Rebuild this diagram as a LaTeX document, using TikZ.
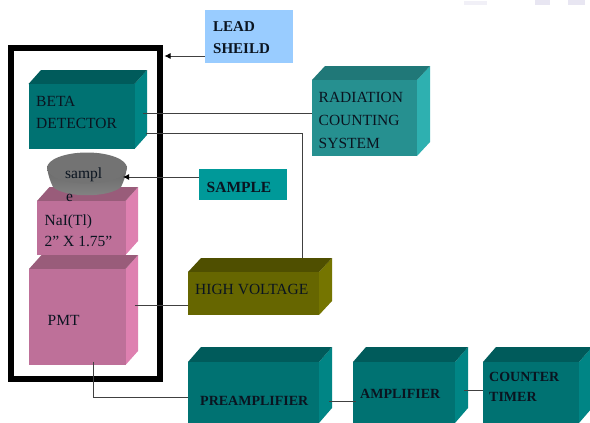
\documentclass[tikz,border=0pt]{standalone}
\usepackage{fontspec}
\setmainfont{Liberation Serif}
\usetikzlibrary{arrows.meta,shapes.geometric}
\definecolor{tealF}{HTML}{007272}
\definecolor{tealT}{HTML}{005B5B}
\definecolor{tealS}{HTML}{008585}
\definecolor{radF}{HTML}{269090}
\definecolor{radT}{HTML}{207878}
\definecolor{radS}{HTML}{2EB0B0}
\definecolor{pinkF}{HTML}{BE7099}
\definecolor{pinkT}{HTML}{995C7A}
\definecolor{pinkS}{HTML}{DE80B0}
\definecolor{oliveF}{HTML}{666600}
\definecolor{oliveT}{HTML}{4F4F00}
\definecolor{oliveS}{HTML}{757500}
\definecolor{shieldC}{HTML}{99CCFF}
\definecolor{sampleC}{HTML}{009999}
\definecolor{smudge}{HTML}{E8E6F2}
\definecolor{inkC}{HTML}{0A1420}
% name, x1, y1 (front top left), x2, y2 (front bottom right), dx, dy, colour prefix
\newcommand{\solidbox}[8]{%
  \fill[#8S] (#4,#3) -- ++(#6,-#7) -- (#4+#6,#5-#7) -- (#4,#5) -- cycle;
  \fill[#8T] (#2,#3) -- ++(#6,-#7) -- (#4+#6,#3-#7) -- (#4,#3) -- cycle;
  \node[fill=#8F,inner sep=0pt,outer sep=0pt,minimum width=#4pt-#2pt,minimum height=#5pt-#3pt,anchor=north west] (#1) at (#2,#3) {};
}
\tikzset{
  lbl/.style={font=\fontsize{15.5}{18}\selectfont,text=inkC,anchor=west,inner sep=0pt,align=left},
  blbl/.style={font=\fontsize{15}{22}\selectfont\bfseries,text=inkC,anchor=west,inner sep=0pt,align=left},
  wire/.style={draw=black!75,line width=0.8pt},
  arrowwire/.style={wire,-{Latex[length=6pt,width=6pt,black]}},
  flatbox/.style={inner sep=0pt,outer sep=0pt,anchor=north west}
}
\begin{document}
\begin{tikzpicture}[x=1pt,y=-1pt]
\useasboundingbox (0,0) rectangle (590,423);
\fill[white] (0,0) rectangle (590,423);
% faint marks at the top edge
\fill[smudge] (535,0) rectangle (550,5);
\fill[smudge] (568,0) rectangle (585,5);
\fill[smudge!60] (464,1) rectangle (487,5);
% shield frame
\node[draw=black,line width=6pt,inner sep=0pt,outer sep=0pt,minimum width=149.5pt,minimum height=331pt,anchor=north west] (frame) at (10.5,48) {};
% boxes
\solidbox{beta}{28.5}{84}{134.5}{149}{12.5}{14}{teal}
\solidbox{rad}{312}{80}{417}{156}{13}{14}{rad}
\solidbox{nai}{37}{201}{125.5}{255}{12.5}{14}{pink}
\solidbox{pmt}{29}{269}{125.5}{365}{12.5}{14}{pink}
\solidbox{hv}{188}{272}{319}{315}{13}{14}{olive}
\solidbox{pre}{188}{362}{319}{423}{13}{15}{teal}
\solidbox{amp}{353}{362}{455}{423}{13}{15}{teal}
\solidbox{cnt}{483}{362}{579}{423}{13}{15}{teal}
% flat boxes
\node[flatbox,fill=shieldC,minimum width=88pt,minimum height=52.5pt] (shield) at (205,10) {};
\node[flatbox,fill=sampleC,minimum width=88pt,minimum height=31pt] (samplebox) at (199,169) {};
% sample disc
\shade[top color=black!60,bottom color=black!48] (47,166) .. controls (48,175) and (50,181) .. (53,187) .. controls (65,198) and (109,198) .. (121,187) .. controls (124,181) and (126,175) .. (127,166) -- cycle;
\node[shape=ellipse,fill=black!55,outer sep=0pt,minimum width=80pt,minimum height=31pt,inner sep=0pt] (disc) at (87,168) {};
% connection points
\coordinate (betaA) at (143,113);
\coordinate (betaB) at (146,133.5);
\coordinate (radIn) at (312,113);
\coordinate (bend1) at (302.5,133.5);
\coordinate (hvTop) at (302.5,258);
\coordinate (pmtR) at (135,305);
\coordinate (hvIn) at (188,305);
\coordinate (pmtB) at (93.5,362);
\coordinate (bend2) at (93.5,397.5);
\coordinate (preIn) at (188,397.5);
\coordinate (preOut) at (329,401);
\coordinate (ampIn) at (356,401);
\coordinate (ampOut) at (464,390.5);
\coordinate (cntIn) at (483,390.5);
\coordinate (shieldOut) at (205,56);
\coordinate (frameIn) at (164.5,56);
\coordinate (sampleOut) at (199,177);
\coordinate (discIn) at (123,177);
% connectors
\draw[wire] (betaA) -- (radIn);
\draw[wire] (betaB) -- (bend1) -- (hvTop);
\draw[wire] (pmtR) -- (hvIn);
\draw[wire] (pmtB) -- (bend2) -- (preIn);
\draw[wire] (preOut) -- (ampIn);
\draw[wire] (ampOut) -- (cntIn);
\draw[arrowwire] (shieldOut) -- (frameIn);
\draw[arrowwire] (sampleOut) -- (discIn);
% labels
\node[blbl] (tShield) at (213,38) {LEAD\\SHEILD};
\node[lbl,font=\fontsize{15.5}{22}\selectfont] (tBeta) at (36,112.5) {BETA\\DETECTOR};
\node[lbl,font=\fontsize{15.5}{23}\selectfont] (tRad) at (318.5,120) {RADIATION\\COUNTING\\SYSTEM};
\node[blbl,font=\fontsize{15.5}{22}\selectfont\bfseries] (tSample) at (206.5,187) {SAMPLE};
\node[lbl] (tDisc) at (65,175) {sampl};
\node[lbl] (tE) at (66,197.5) {e};
\node[lbl,font=\fontsize{15.5}{21}\selectfont] (tNai) at (44.5,231) {NaI(Tl)\\2” X 1.75”};
\node[lbl] (tPmt) at (47.5,320) {PMT};
\node[lbl] (tHv) at (195,289.5) {HIGH VOLTAGE};
\node[blbl,font=\fontsize{14}{20}\selectfont\bfseries] (tPre) at (200,400.5) {PREAMPLIFIER};
\node[blbl,font=\fontsize{14}{20}\selectfont\bfseries] (tAmp) at (360,394) {AMPLIFIER};
\node[blbl,font=\fontsize{14}{20}\selectfont\bfseries] (tCnt) at (489,387) {COUNTER\\TIMER};
\end{tikzpicture}
\end{document}
